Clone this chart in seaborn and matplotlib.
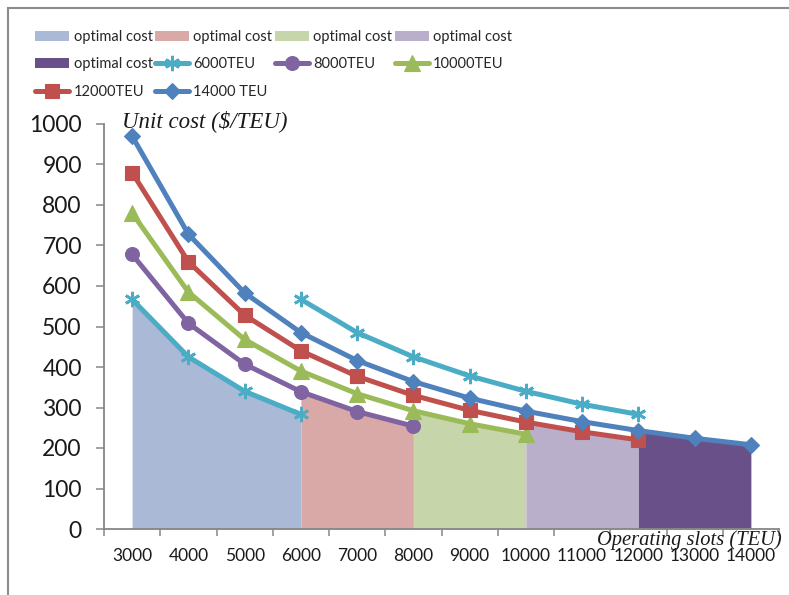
import matplotlib
matplotlib.use("Agg")
import matplotlib.pyplot as plt
from matplotlib.patches import Rectangle
import pandas as pd
import seaborn as sns

# Operating slots (category axis) and unit cost per ship size
SLOTS = [3000, 4000, 5000, 6000, 7000, 8000, 9000, 10000, 11000, 12000, 13000, 14000]

SLOTS_6000_A = [3000, 4000, 5000, 6000]
COST_6000_A = [567, 425, 340, 283]
SLOTS_6000_B = [6000, 7000, 8000, 9000, 10000, 11000, 12000]
COST_6000_B = [567, 485, 425, 378, 340, 308, 283]
SLOTS_8000 = [3000, 4000, 5000, 6000, 7000, 8000]
COST_8000 = [678, 508, 407, 339, 290, 254]
SLOTS_10000 = [3000, 4000, 5000, 6000, 7000, 8000, 9000, 10000]
COST_10000 = [780, 585, 468, 390, 334, 292, 260, 234]
SLOTS_12000 = [3000, 4000, 5000, 6000, 7000, 8000, 9000, 10000, 11000, 12000]
COST_12000 = [880, 660, 528, 440, 377, 330, 293, 264, 240, 220]
SLOTS_14000 = SLOTS
COST_14000 = [970, 728, 583, 485, 416, 364, 323, 291, 265, 243, 224, 208]

# Optimal-cost bands: slot range covered and the series that bounds it
OPT_RANGES = [(3000, 6000), (6000, 8000), (8000, 10000), (10000, 12000), (12000, 14000)]
OPT_COLORS = ["#A9B9D6", "#D9A9A8", "#C6D6AA", "#B9AFCB", "#6A5088"]

sns.set_theme(style="white")
plt.rcParams["font.family"] = ["Lato", "DejaVu Sans"]

pos = {s: i for i, s in enumerate(SLOTS)}

fig = plt.figure(figsize=(7.89, 5.95), dpi=100)
ax = fig.add_axes([104 / 789, 66 / 595, 675 / 789, 405 / 595])

series = [
    ("6000TEU", SLOTS_6000_A, COST_6000_A, "#4BACC6", (6, 2, 0), 11),
    ("_6000TEU_b", SLOTS_6000_B, COST_6000_B, "#4BACC6", (6, 2, 0), 11),
    ("8000TEU", SLOTS_8000, COST_8000, "#8064A2", "o", 10),
    ("10000TEU", SLOTS_10000, COST_10000, "#9BBB59", "^", 11),
    ("12000TEU", SLOTS_12000, COST_12000, "#C0504D", "s", 10),
    ("14000 TEU", SLOTS_14000, COST_14000, "#4F81BD", "D", 8.5),
]
lookup = {name: (sl, cv) for name, sl, cv, *_ in series}

# Optimal-cost areas, bounded by the relevant ship-size curve
bound_series = ["6000TEU", "8000TEU", "10000TEU", "12000TEU", "14000 TEU"]
area_handles = []
for (lo, hi), name, col in zip(OPT_RANGES, bound_series, OPT_COLORS):
    sl, cv = lookup[name]
    xs = [pos[s] for s in sl if lo <= s <= hi]
    ys = [c for s, c in zip(sl, cv) if lo <= s <= hi]
    h = ax.fill_between(xs, 0, ys, color=col, linewidth=0, zorder=1, label="optimal cost")
    area_handles.append(h)

line_handles = {}
for name, sl, cv, col, mk, ms in series:
    df = pd.DataFrame({"x": [pos[s] for s in sl], "y": cv})
    sns.lineplot(data=df, x="x", y="y", ax=ax, color=col, linewidth=3.6,
                 marker=mk, markersize=ms, markeredgecolor=col,
                 markeredgewidth=2 if isinstance(mk, tuple) else 0.8,
                 zorder=3, legend=False)
    line = ax.lines[-1]
    line.set_label(name)
    line_handles[name] = line

ax.set_xlim(-0.5, len(SLOTS) - 0.5)
ax.set_ylim(0, 1000)
ax.set_xlabel("")
ax.set_ylabel("")

# Category boundaries carry the tick marks, labels sit at category centres
ax.set_xticks([i - 0.5 for i in range(len(SLOTS) + 1)])
ax.set_xticklabels([])
ax.set_xticks(range(len(SLOTS)), minor=True)
ax.set_xticklabels([str(s) for s in SLOTS], minor=True, fontsize=12.5, color="#1a1a1a")
ax.tick_params(axis="x", which="major", direction="out", length=5, width=1.1,
               color="#868686", bottom=True)
ax.tick_params(axis="x", which="minor", length=0, pad=14)

ax.set_yticks(range(0, 1001, 100))
ax.set_yticklabels([str(v) for v in range(0, 1001, 100)], fontsize=16.5, color="#1a1a1a")
ax.tick_params(axis="y", direction="out", length=6, width=1.1, color="#868686",
               left=True, pad=10)

for side in ("top", "right"):
    ax.spines[side].set_visible(False)
for side in ("left", "bottom"):
    ax.spines[side].set_color("#868686")
    ax.spines[side].set_linewidth(1.3)
ax.grid(False)

fig.text(122 / 789, 1 - 127 / 595, "Unit cost ($/TEU)", family="Liberation Serif",
         style="italic", fontsize=16.5, va="baseline", ha="left", color="#1a1a1a")
fig.text(597 / 789, 1 - 545 / 595, "Operating slots (TEU)", family="Liberation Serif",
         style="italic", fontsize=14.8, va="baseline", ha="left", color="#1a1a1a")

# Legend laid out row by row in four columns
handles = [
    area_handles[0], area_handles[4], line_handles["12000TEU"],
    area_handles[1], line_handles["6000TEU"], line_handles["14000 TEU"],
    area_handles[2], line_handles["8000TEU"],
    area_handles[3], line_handles["10000TEU"],
]
labels = [h.get_label() for h in handles]
fig.legend(handles, labels, ncol=4, loc="upper left",
           bbox_to_anchor=(35 / 789, 1 - 30 / 595), frameon=False,
           fontsize=10.5, handlelength=2.35, handletextpad=0.3,
           columnspacing=0.15, labelspacing=0.92, borderaxespad=0, borderpad=0)

# Outer chart frame
fig.patches.append(Rectangle((8 / 789, -0.05), 1.2, 1.05 - 8 / 595,
                             transform=fig.transFigure, fill=False,
                             edgecolor="#8c8c8c", linewidth=1.5))

fig.savefig("out.png", dpi=100)
